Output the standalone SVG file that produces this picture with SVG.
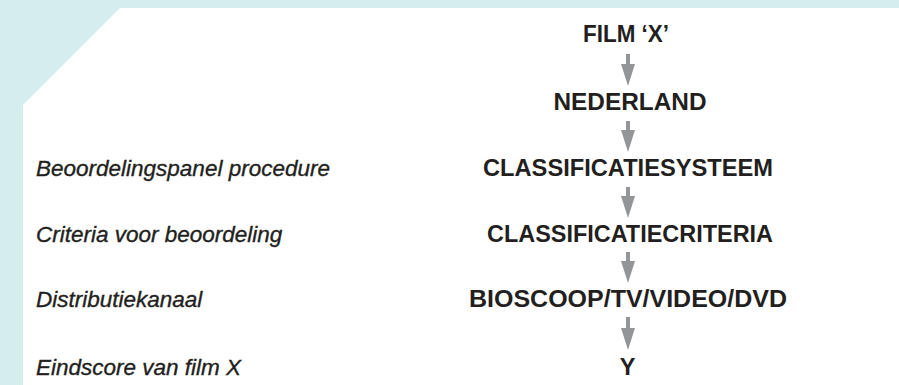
<svg xmlns="http://www.w3.org/2000/svg" width="899" height="385" viewBox="0 0 899 385">
  <style>
    .main { font-family: "Liberation Sans", Arial, sans-serif; font-weight: bold; font-size: 23.5px; fill: #231f20; text-anchor: middle; }
    .label { font-family: "Liberation Sans", Arial, sans-serif; font-style: italic; font-size: 22.5px; fill: #231f20; stroke: #231f20; stroke-width: 0.35; }
    .arrow { stroke: #939598; stroke-width: 4; fill: none; marker-end: url(#head); }
  </style>
  <defs>
    <marker id="head" markerUnits="userSpaceOnUse" viewBox="0 0 22 14" refX="0" refY="7" markerWidth="22" markerHeight="14" orient="auto">
      <path d="M0,0 L22,7 L0,14 Z" fill="#939598"/>
    </marker>
  </defs>
  <rect x="0" y="0" width="899" height="385" fill="#d6edef"/>
  <polygon points="120,8 899,8 899,385 23,385 23,105" fill="#ffffff"/>

  <g id="connectors">
    <line class="arrow" x1="628" y1="54" x2="628" y2="64"/>
    <line class="arrow" x1="628" y1="121" x2="628" y2="130"/>
    <line class="arrow" x1="628" y1="187" x2="628" y2="196"/>
    <line class="arrow" x1="628" y1="252" x2="628" y2="261"/>
    <line class="arrow" x1="628" y1="317" x2="628" y2="328"/>
  </g>

  <g id="node-film"><text class="main" x="626" y="42" textLength="86" lengthAdjust="spacingAndGlyphs">FILM ‘X’</text></g>
  <g id="node-nederland"><text class="main" x="630" y="110" textLength="153" lengthAdjust="spacingAndGlyphs">NEDERLAND</text></g>
  <g id="node-systeem"><text class="main" x="628" y="176" textLength="290" lengthAdjust="spacingAndGlyphs">CLASSIFICATIESYSTEEM</text></g>
  <g id="node-criteria"><text class="main" x="630" y="241.5" textLength="286" lengthAdjust="spacingAndGlyphs">CLASSIFICATIECRITERIA</text></g>
  <g id="node-distributie"><text class="main" x="628" y="306.5" textLength="318" lengthAdjust="spacingAndGlyphs">BIOSCOOP/TV/VIDEO/DVD</text></g>
  <g id="node-y"><text class="main" x="627.5" y="375">Y</text></g>

  <g id="label-panel"><text class="label" x="36" y="176">Beoordelingspanel procedure</text></g>
  <g id="label-criteria"><text class="label" x="36" y="241.5">Criteria voor beoordeling</text></g>
  <g id="label-distributie"><text class="label" x="36" y="306.5">Distributiekanaal</text></g>
  <g id="label-eindscore"><text class="label" x="36" y="375">Eindscore van film X</text></g>
</svg>
